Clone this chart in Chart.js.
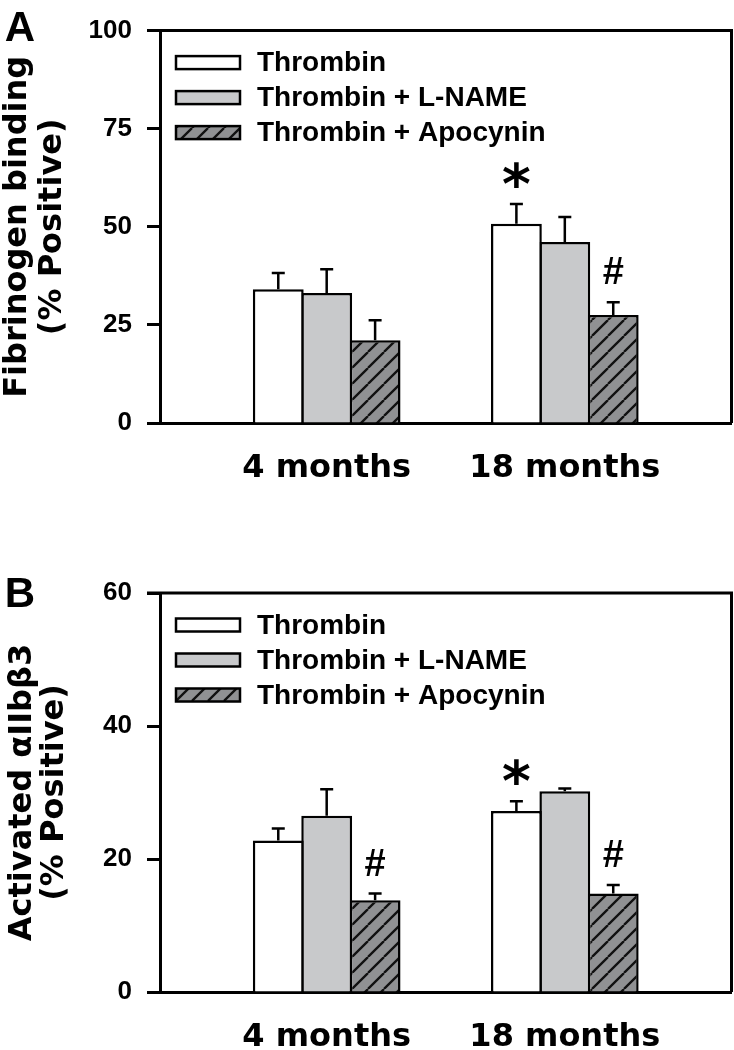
<!DOCTYPE html>
<html>
<head>
<meta charset="utf-8">
<script src="https://cdn.jsdelivr.net/npm/chart.js@4.4.0/dist/chart.umd.min.js"></script>
<style>
  body { margin: 0; background: #fff; }
  canvas { display: block; }
</style>
</head>
<body>
<canvas id="graficoA" width="734" height="525"></canvas>
<canvas id="graficoB" width="734" height="525"></canvas>
<script>
const categories = ['4 months', '18 months'];
const seriesNames = ['Thrombin', 'Thrombin + L-NAME', 'Thrombin + Apocynin'];

// Painel A - fibrinogen binding
const thrombinA = [34.1, 50.8];
const thrombinAErr = [4.1, 5.0];
const lnameA = [33.1, 46.1];
const lnameAErr = [6.1, 6.4];
const apocyninA = [21.1, 27.5];
const apocyninAErr = [5.1, 3.3];
const marksA = [['', '*'], ['', ''], ['', '#']];
const yTicksA = [0, 25, 50, 75, 100];

// Painel B - activated aIIbb3
const thrombinB = [22.8, 27.2];
const thrombinBErr = [1.8, 1.5];
const lnameB = [26.5, 30.2];
const lnameBErr = [4.0, 0.4];
const apocyninB = [13.8, 14.8];
const apocyninBErr = [1.0, 1.3];
const marksB = [['', '*'], ['', ''], ['#', '#']];
const yTicksB = [0, 20, 40, 60];

function hachura() {
  const size = 16;
  const c = document.createElement('canvas');
  c.width = size; c.height = size;
  const g = c.getContext('2d');
  g.fillStyle = '#909193';
  g.fillRect(0, 0, size, size);
  g.strokeStyle = '#111';
  g.lineWidth = 2.3;
  g.beginPath();
  for (const o of [-size, 0, size]) {
    g.moveTo(o, size); g.lineTo(o + size, 0);
  }
  g.stroke();
  return g.createPattern(c, 'repeat');
}
const fills = ['#ffffff', '#c8c9cb', hachura()];

// moldura (topo e direita)
const moldura = {
  id: 'moldura',
  afterDraw(chart) {
    const {ctx, chartArea: a} = chart;
    ctx.save();
    ctx.strokeStyle = '#000';
    ctx.lineWidth = 3;
    ctx.beginPath();
    ctx.moveTo(a.left - 13, a.top);
    ctx.lineTo(a.right, a.top);
    ctx.lineTo(a.right, a.bottom);
    ctx.stroke();
    ctx.restore();
  }
};

// barras de erro + marcadores (* e #)
const barrasErro = {
  id: 'barrasErro',
  afterDatasetsDraw(chart) {
    const {ctx} = chart;
    const y = chart.scales.y;
    ctx.save();
    ctx.strokeStyle = '#000';
    ctx.fillStyle = '#000';
    ctx.lineWidth = 2.5;
    chart.data.datasets.forEach((ds, di) => {
      const meta = chart.getDatasetMeta(di);
      meta.data.forEach((bar, i) => {
        const top = y.getPixelForValue(ds.data[i].y + ds.errors[i]);
        ctx.beginPath();
        ctx.moveTo(bar.x, bar.y);
        ctx.lineTo(bar.x, top);
        ctx.moveTo(bar.x - 6.5, top);
        ctx.lineTo(bar.x + 6.5, top);
        ctx.stroke();
        const m = ds.marks[i];
        if (m) {
          ctx.textAlign = 'center';
          ctx.textBaseline = 'alphabetic';
          if (m === '*') {
            ctx.font = 'bold 55px "DejaVu Sans"';
            ctx.fillText(m, bar.x, top - 1);
          } else {
            ctx.font = 'bold 38px "Liberation Sans"';
            ctx.fillText(m, bar.x, top - 18);
          }
        }
      });
    });
    ctx.restore();
  }
};

// legenda dentro do grafico
const legenda = {
  id: 'legenda',
  afterDraw(chart) {
    const {ctx, chartArea: a} = chart;
    ctx.save();
    ctx.font = 'bold 28px "Liberation Sans"';
    ctx.textBaseline = 'middle';
    ctx.textAlign = 'left';
    chart.data.datasets.forEach((ds, i) => {
      const cy = a.top + 32 + i * 35;
      const x = a.left + 16;
      ctx.fillStyle = ds.backgroundColor;
      ctx.fillRect(x, cy - 6.5, 64, 13);
      ctx.lineWidth = 2.5;
      ctx.strokeStyle = '#000';
      ctx.strokeRect(x, cy - 6.5, 64, 13);
      ctx.fillStyle = '#000';
      ctx.fillText(ds.label, x + 81, cy + 1);
    });
    ctx.restore();
  }
};

function letra(text, dy) {
  return {
    id: 'letra',
    afterDraw(chart) {
      const {ctx, chartArea: a} = chart;
      ctx.save();
      ctx.font = 'bold 42px "Liberation Sans"';
      ctx.fillStyle = '#000';
      ctx.textAlign = 'center';
      ctx.textBaseline = 'alphabetic';
      ctx.fillText(text, 20, a.top + dy);
      ctx.restore();
    }
  };
}

function grafico(id, values, errors, marks, yTicks, title, titleLH, titlePad, topPad, xHeight, panel, letterDy) {
  const datasets = seriesNames.map((name, s) => ({
    label: name,
    data: values[s].map((v, i) => ({x: i + 1, y: v})),
    errors: errors[s],
    marks: marks[s],
    backgroundColor: fills[s],
    borderColor: '#000',
    borderWidth: 2.5,
    categoryPercentage: 0.61,
    barPercentage: 1.05,
  }));
  return new Chart(document.getElementById(id), {
    type: 'bar',
    data: {datasets},
    options: {
      responsive: false,
      animation: false,
      layout: {padding: {left: 0, right: 2.5, top: topPad, bottom: 0}},
      plugins: {
        legend: {display: false},
        tooltip: {enabled: false},
      },
      scales: {
        x: {
          type: 'linear',
          min: 0.3,
          max: 2.7,
          offset: false,
          afterBuildTicks: ax => { ax.ticks = categories.map((c, i) => ({value: i + 1})); },
          afterFit: ax => { ax.height = xHeight; },
          border: {display: true, color: '#000', width: 3},
          grid: {drawOnChartArea: false, drawTicks: false, offset: false},
          ticks: {
            color: '#000',
            padding: 26,
            autoSkip: false,
            maxRotation: 0,
            callback: v => categories[v - 1],
            font: {family: 'DejaVu Sans', size: 32, weight: 'bold'},
          },
        },
        y: {
          min: 0,
          max: yTicks[yTicks.length - 1],
          afterBuildTicks: ax => { ax.ticks = yTicks.map(v => ({value: v})); },
          afterFit: ax => { ax.width = 160; },
          border: {display: true, color: '#000', width: 3},
          grid: {drawOnChartArea: false, drawTicks: true, tickLength: 13, tickWidth: 3, tickColor: '#000', color: '#000'},
          ticks: {
            color: '#000',
            padding: 15,
            font: {family: 'Liberation Sans', size: 26, weight: 'bold'},
          },
          title: {
            display: true,
            text: title,
            color: '#000',
            padding: {top: titlePad, bottom: 0},
            font: {family: 'DejaVu Sans', size: 32, weight: 'bold', lineHeight: titleLH},
          },
        },
      },
    },
    plugins: [moldura, barrasErro, legenda, letra(panel, letterDy)],
  });
}

grafico('graficoA',
  [thrombinA, lnameA, apocyninA],
  [thrombinAErr, lnameAErr, apocyninAErr],
  marksA, yTicksA,
  ['Fibrinogen binding', '(% Positive)'], 1.1, 0, 23, 102, 'A', 10);

grafico('graficoB',
  [thrombinB, lnameB, apocyninB],
  [thrombinBErr, lnameBErr, apocyninBErr],
  marksB, yTicksB,
  ['Activated \u03b1IIb\u03b23', '(% Positive)'], 1.0, 7, 68, 58, 'B', 14);
</script>
</body>
</html>
